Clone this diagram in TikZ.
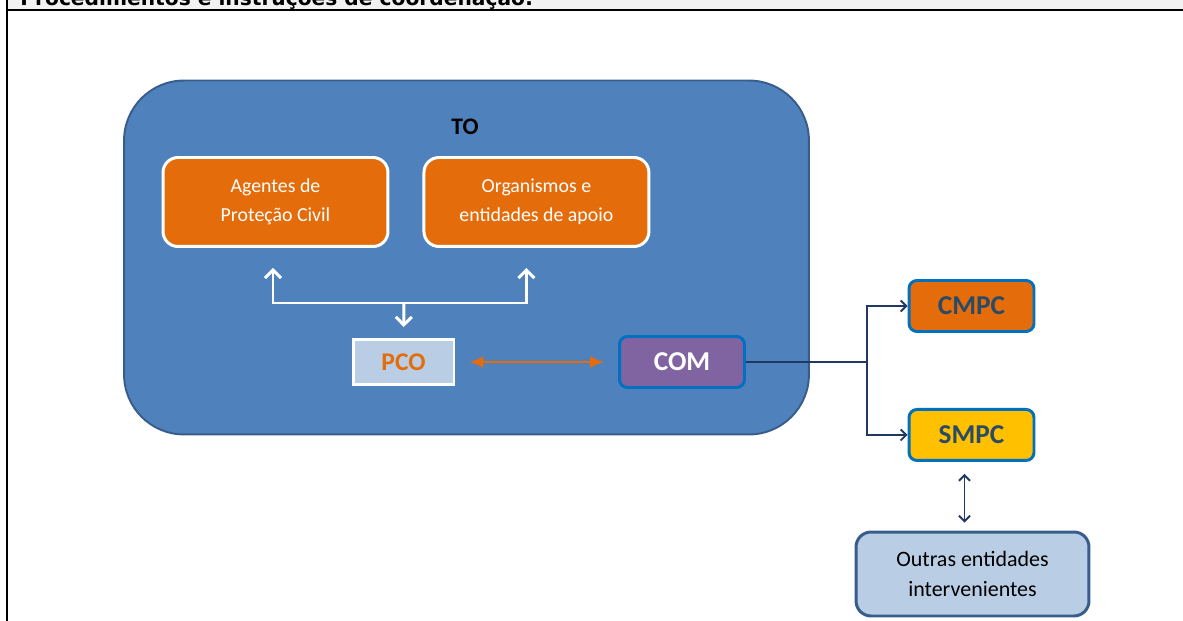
\documentclass[tikz,border=0pt]{standalone}
\usepackage{fontspec}
\setmainfont{Carlito}
\newfontfamily\headfont{DejaVu Sans}
\usetikzlibrary{arrows.meta,positioning}

\definecolor{toblue}{HTML}{4F81BD}
\definecolor{todark}{HTML}{385D8A}
\definecolor{orgorange}{HTML}{E46C0A}
\definecolor{paleblue}{HTML}{B9CDE5}
\definecolor{compurple}{HTML}{8064A2}
\definecolor{edgeblue}{HTML}{0070C0}
\definecolor{cmpcyellow}{HTML}{FFC000}
\definecolor{navyline}{HTML}{1F3864}
\definecolor{slatetext}{HTML}{2A4A66}
\definecolor{headgray}{HTML}{F2F2F2}

\tikzset{
  orgbox/.style={draw=white, line width=1.7pt, fill=orgorange, rounded corners=0.3cm,
    minimum width=4.5cm, minimum height=1.78cm, text=white, align=center,
    font=\fontsize{11.3}{16.5}\selectfont},
  munbox/.style={draw=edgeblue, line width=1.7pt, rounded corners=0.16cm,
    minimum width=2.5cm, minimum height=1.02cm, text=slatetext,
    font=\bfseries\fontsize{15.5}{17}\selectfont},
  warr/.style={draw=white, line width=1.7pt, -{Straight Barb[length=1.6mm,width=3.2mm]}},
  narr/.style={draw=navyline, line width=1.1pt, -{Straight Barb[length=1.1mm,width=2.2mm]}},
}

\begin{document}
\begin{tikzpicture}[x=0.02cm, y=-0.02cm]
  \useasboundingbox (0,0) rectangle (1183,621);
  \clip (0,0) rectangle (1183,621);

  % page frame and clipped heading
  \fill[headgray] (7,0) rectangle (1183,10);
  \node[anchor=base west, inner sep=0pt, font=\headfont\bfseries\fontsize{11.5}{13}\selectfont] (head) at (20,6)
    {Procedimentos e instruções de coordenação:}; %
  \draw[line width=1.3pt] (7,10) -- (1183,10);
  \draw[line width=1.3pt] (7,0) -- (7,621);

  % theatre of operations
  \node[draw=todark, line width=1.1pt, fill=toblue, rounded corners=1.2cm,
    minimum width=13.7cm, minimum height=7.08cm] (to) at (466.5,257.5) {}; %
  \node[font=\bfseries\fontsize{13.5}{15}\selectfont] (tolabel) at (465,127) {TO}; %

  \node[orgbox] (agentes) at (275.5,202) {Agentes de\\Proteção Civil}; %
  \node[orgbox, right=0.66cm of agentes] (organismos) {Organismos e\\entidades de apoio}; %

  \node[draw=white, line width=1.7pt, fill=paleblue, minimum width=2.02cm, minimum height=0.9cm,
    text=orgorange, font=\bfseries\fontsize{14.5}{16}\selectfont] (pco) at (403.5,362) {PCO}; %
  \node[munbox, fill=compurple, text=white] (com) at (682,362) {COM}; %

  \node[munbox, fill=orgorange] (cmpc) at (971.5,306) {CMPC}; %
  \node[munbox, fill=cmpcyellow, below=1.5cm of cmpc] (smpc) {SMPC}; %
  \node[draw=todark, line width=1.7pt, fill=paleblue, rounded corners=0.3cm,
    minimum width=4.66cm, minimum height=1.68cm, align=center,
    font=\fontsize{12.5}{17}\selectfont] (outras) at (972.5,574) {Outras entidades\\intervenientes}; %

  \coordinate (hub) at (404,303);
  \coordinate (split) at (867,362);

  % links inside TO
  \draw[warr, shorten >=20*0.02cm] (hub) -| ([xshift=-0.05cm]agentes.south);
  \draw[warr, shorten >=20*0.02cm] (hub) -| ([xshift=-0.2cm]organismos.south);
  \draw[warr, shorten >=11*0.02cm] (hub) -- (pco.north);
  \draw[draw=orgorange, line width=1.2pt, {Latex[length=2.8mm,width=2.4mm]}-{Latex[length=2.8mm,width=2.4mm]},
    shorten <=14*0.02cm, shorten >=14*0.02cm] (pco.east) -- (com.west);

  % links outside
  \draw[draw=navyline, line width=1.1pt] (com.east) -- (split);
  \draw[narr] (split) |- (cmpc.west);
  \draw[narr] (split) |- (smpc.west);
  \draw[narr, {Straight Barb[length=1.1mm,width=2.2mm]}-{Straight Barb[length=1.1mm,width=2.2mm]},
    shorten <=12*0.02cm, shorten >=8*0.02cm]
    ([xshift=-0.14cm]smpc.south) -- ([xshift=-0.14cm]smpc.south |- outras.north);
\end{tikzpicture}
\end{document}
